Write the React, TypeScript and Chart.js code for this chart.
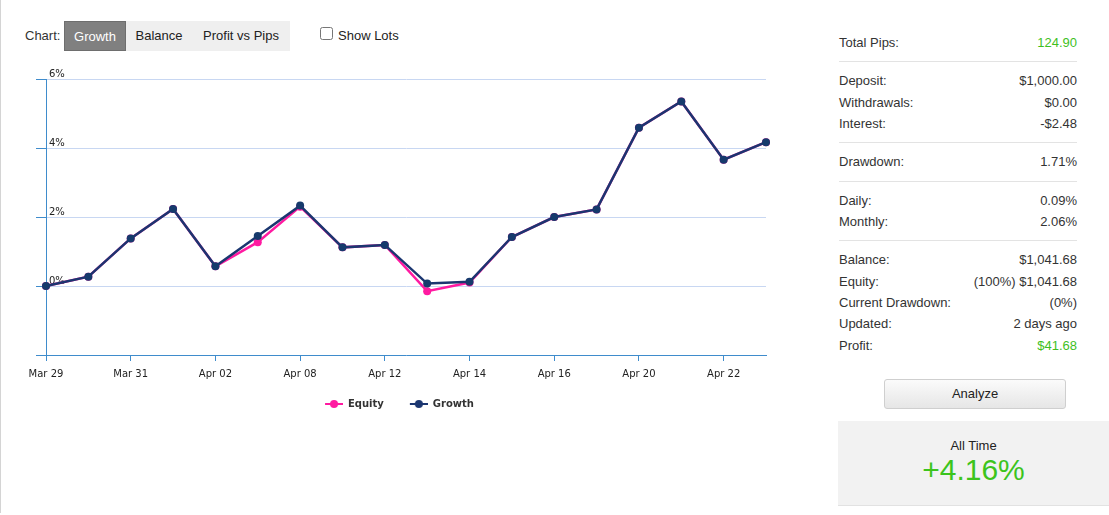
import React, { useEffect, useRef } from "react";
import { Chart, registerables } from "chart.js";

Chart.register(...registerables);

const categories = [
  "Mar 29", "Mar 30", "Mar 31", "Apr 01", "Apr 02", "Apr 07", "Apr 08", "Apr 09", "Apr 12",
  "Apr 13", "Apr 14", "Apr 15", "Apr 16", "Apr 19", "Apr 20", "Apr 21", "Apr 22", "Apr 23",
];
const growthValues = [0, 0.27, 1.38, 2.23, 0.57, 1.45, 2.33, 1.12, 1.19, 0.07, 0.12, 1.42, 2.0, 2.22, 4.59, 5.35, 3.66, 4.17];
const equityValues = [0, 0.27, 1.38, 2.23, 0.57, 1.27, 2.3, 1.12, 1.19, -0.15, 0.1, 1.42, 2.0, 2.22, 4.59, 5.35, 3.66, 4.17];
const yMin = -2;
const yMax = 6;
const yStep = 2;

const statsGroups: [string, string, boolean][][] = [
  [["Total Pips:", "124.90", true]],
  [["Deposit:", "$1,000.00", false], ["Withdrawals:", "$0.00", false], ["Interest:", "-$2.48", false]],
  [["Drawdown:", "1.71%", false]],
  [["Daily:", "0.09%", false], ["Monthly:", "2.06%", false]],
  [
    ["Balance:", "$1,041.68", false],
    ["Equity:", "(100%) $1,041.68", false],
    ["Current Drawdown:", "(0%)", false],
    ["Updated:", "2 days ago", false],
    ["Profit:", "$41.68", true],
  ],
];
const rowCenters = [[42], [80, 102, 123], [161], [200, 221], [259, 281, 302, 323, 345]];
const hrTops = [61, 142, 181, 240];

const GROWTH = "#1b3670";
const GROWTH_PT = "#163a6c";
const EQUITY = "#ff1aa1";
const AXIS = "#3f8ccc";
const GRID = "#c8d7f2";
const GREEN = "#3fbf1f";
const SANS = "Arial, 'Liberation Sans', sans-serif";

// legend marker: 8px transparent lead-in, then an 18px line with a dot
function makeMarker(color: string) {
  const c = document.createElement("canvas");
  c.width = 26;
  c.height = 10;
  const ctx = c.getContext("2d")!;
  ctx.strokeStyle = color;
  ctx.lineWidth = 2;
  ctx.beginPath();
  ctx.moveTo(8, 5);
  ctx.lineTo(26, 5);
  ctx.stroke();
  ctx.fillStyle = color;
  ctx.beginPath();
  ctx.arc(17, 5, 4, 0, Math.PI * 2);
  ctx.fill();
  return c;
}

function GrowthChart() {
  const ref = useRef<HTMLCanvasElement>(null);
  useEffect(() => {
    const markers = [makeMarker(EQUITY), makeMarker(GROWTH)];
    const chart = new Chart(ref.current!, {
      type: "line",
      data: {
        labels: categories,
        datasets: [
          {
            label: "Equity",
            data: equityValues,
            borderColor: EQUITY,
            backgroundColor: EQUITY,
            pointBackgroundColor: EQUITY,
            pointBorderColor: EQUITY,
            borderWidth: 2.5,
            pointRadius: 4,
            pointBorderWidth: 0,
            tension: 0,
            order: 1,
          },
          {
            label: "Growth",
            data: growthValues,
            borderColor: GROWTH,
            backgroundColor: GROWTH_PT,
            pointBackgroundColor: GROWTH_PT,
            pointBorderColor: GROWTH_PT,
            borderWidth: 2.5,
            pointRadius: 4,
            pointBorderWidth: 0,
            tension: 0,
            order: 0,
          },
        ],
      },
      options: {
        animation: false,
        responsive: false,
        maintainAspectRatio: false,
        layout: { padding: { left: 0, right: 19, top: 19, bottom: 1 } },
        plugins: {
          tooltip: { enabled: false },
          legend: {
            position: "bottom",
            labels: {
              usePointStyle: true,
              pointStyleWidth: 26,
              boxHeight: 10,
              padding: 18,
              color: "#333",
              font: { family: "'DejaVu Sans', sans-serif", size: 10, weight: "bold" },
              generateLabels: (c: any) =>
                c.data.datasets.map((ds: any, i: number) => ({
                  text: ds.label,
                  pointStyle: markers[i],
                  fillStyle: ds.borderColor,
                  strokeStyle: ds.borderColor,
                  lineWidth: 0,
                  hidden: false,
                  datasetIndex: i,
                  fontColor: "#333",
                })),
            },
          },
        },
        scales: {
          x: {
            type: "category",
            offset: false,
            afterFit: (s: any) => {
              s.height = 26;
            },
            grid: {
              display: true,
              drawOnChartArea: false,
              drawTicks: true,
              tickLength: 6,
              tickColor: AXIS,
              color: AXIS,
            },
            border: { display: true, color: AXIS, width: 1 },
            ticks: {
              autoSkip: false,
              maxRotation: 0,
              padding: 3,
              color: "#222",
              font: { family: "'DejaVu Sans', sans-serif", size: 10, lineHeight: 2 },
              callback: (_v: any, i: number) => (i % 2 === 0 ? categories[i] : null),
            },
          },
          y: {
            min: yMin,
            max: yMax,
            afterFit: (s: any) => {
              s.width = 21;
            },
            grid: {
              color: GRID,
              lineWidth: 1,
              drawTicks: true,
              tickLength: 10,
              tickColor: AXIS,
            },
            border: { display: true, color: AXIS, width: 1 },
            ticks: {
              stepSize: yStep,
              mirror: true,
              padding: 3,
              labelOffset: -5,
              color: "#222",
              font: { family: "'DejaVu Sans', sans-serif", size: 10 },
              callback: (v: any) => (Number(v) === yMin ? "" : `${v}%`),
            },
          },
        },
      },
    } as any);
    return () => chart.destroy();
  }, []);
  return (
    <canvas
      ref={ref}
      width={760}
      height={360}
      style={{ position: "absolute", left: 25, top: 60, width: 760, height: 360 }}
    />
  );
}

const btnBase: React.CSSProperties = {
  position: "absolute",
  top: 21,
  height: 30,
  lineHeight: "30px",
  textAlign: "center",
  fontSize: 13,
  fontFamily: SANS,
  boxSizing: "border-box",
};

export default function App() {
  return (
    <div
      style={{
        position: "absolute",
        left: 0,
        top: 0,
        width: 1109,
        height: 515,
        background: "#fff",
        fontFamily: SANS,
        color: "#333",
        overflow: "hidden",
      }}
    >
      <div style={{ position: "absolute", left: 0, top: 0, width: 1, height: 513, background: "#d4d4d4" }} />
      <div style={{ position: "absolute", left: 25, top: 28, fontSize: 13, lineHeight: "16px" }}>Chart:</div>
      <div style={{ ...btnBase, left: 64, width: 62, background: "#808080", color: "#fff", border: "1px solid #6e6e6e" }}>
        Growth
      </div>
      <div style={{ ...btnBase, left: 126, width: 66, background: "#efefef", color: "#222" }}>Balance</div>
      <div style={{ ...btnBase, left: 192, width: 98, background: "#efefef", color: "#222" }}>Profit vs Pips</div>
      <input
        type="checkbox"
        readOnly
        style={{ position: "absolute", left: 320, top: 27, width: 13, height: 13, margin: 0 }}
      />
      <div style={{ position: "absolute", left: 338, top: 28, fontSize: 13, lineHeight: "16px", color: "#222" }}>
        Show Lots
      </div>

      <GrowthChart />

      {statsGroups.map((g, gi) =>
        g.map((row, ri) => (
          <div
            key={`${gi}-${ri}`}
            style={{
              position: "absolute",
              left: 839,
              width: 238,
              top: rowCenters[gi][ri] - 7,
              height: 16,
              lineHeight: "16px",
              fontSize: 13,
              display: "flex",
              justifyContent: "space-between",
              color: "#333",
            }}
          >
            <span>{row[0]}</span>
            <span style={{ color: row[2] ? GREEN : "#333" }}>{row[1]}</span>
          </div>
        ))
      )}
      {hrTops.map((t) => (
        <div key={t} style={{ position: "absolute", left: 839, top: t, width: 238, height: 1, background: "#e3e3e3" }} />
      ))}

      <div
        style={{
          position: "absolute",
          left: 884,
          top: 379,
          width: 182,
          height: 30,
          boxSizing: "border-box",
          border: "1px solid #cfcfcf",
          borderRadius: 3,
          background: "linear-gradient(#fbfbfb, #e6e6e6)",
          textAlign: "center",
          lineHeight: "28px",
          fontSize: 13,
          color: "#222",
        }}
      >
        Analyze
      </div>

      <div
        style={{
          position: "absolute",
          left: 838,
          top: 421,
          width: 271,
          height: 84,
          background: "#f2f2f2",
          borderBottom: "1px solid #e2e2e2",
          textAlign: "center",
        }}
      >
        <div style={{ position: "absolute", left: 0, right: 0, top: 17, fontSize: 13, lineHeight: "16px", color: "#222" }}>
          All Time
        </div>
        <div style={{ position: "absolute", left: 0, right: 0, top: 31, fontSize: 30, lineHeight: "36px", color: "#3cc41c" }}>
          +4.16%
        </div>
      </div>
    </div>
  );
}
